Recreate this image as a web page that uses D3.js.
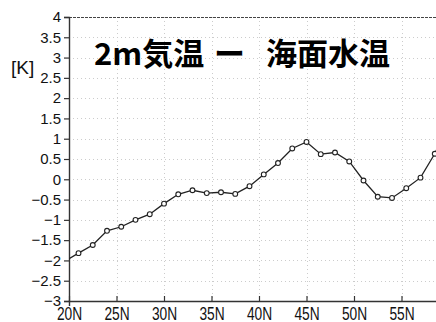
<!DOCTYPE html>
<html>
<head>
<meta charset="utf-8">
<script src="https://cdn.jsdelivr.net/npm/d3@7"></script>
<style>
  html, body { margin: 0; padding: 0; background: #fff; }
  svg { display: block; }
</style>
</head>
<body>
<svg id="chart" width="436" height="322"></svg>
<script>
// Zonal mean difference: 2m air temperature minus sea surface temperature
const latitudes = [19.5, 21, 22.5, 24, 25.5, 27, 28.5, 30, 31.5, 33, 34.5, 36, 37.5, 39,
                   40.5, 42, 43.5, 45, 46.5, 48, 49.5, 51, 52.5, 54, 55.5, 57, 58.5, 60];
const diffK = [-2.03, -1.82, -1.62, -1.27, -1.17, -1.00, -0.86, -0.60, -0.37, -0.27, -0.34, -0.32, -0.36, -0.17,
               0.12, 0.40, 0.76, 0.92, 0.62, 0.66, 0.44, -0.03, -0.43, -0.46, -0.22, 0.04, 0.63, 1.40];
const yTicks = [4, 3.5, 3, 2.5, 2, 1.5, 1, 0.5, 0, -0.5, -1, -1.5, -2, -2.5, -3];
const xTicks = [20, 25, 30, 35, 40, 45, 50, 55];
const xTickLabels = ["20N", "25N", "30N", "35N", "40N", "45N", "50N", "55N"];
const titleParts = ["2m気温", "ー", "海面水温"];
const unitText = "[K]";

const svg = d3.select("#chart");
const m = { left: 69, right: 449, top: 17, bottom: 301 };

const x = d3.scaleLinear().domain([20, 60]).range([m.left, m.right]);
const y = d3.scaleLinear().domain([-3, 4]).range([m.bottom, m.top]);

svg.append("defs").append("clipPath").attr("id", "plotClip")
  .append("rect").attr("x", m.left).attr("y", m.top - 1)
  .attr("width", m.right - m.left).attr("height", m.bottom - m.top + 2);

// dotted grid
const grid = svg.append("g").attr("stroke", "#cccccc").attr("stroke-width", 1)
  .attr("stroke-dasharray", "1,3");
grid.selectAll("line.h").data(yTicks.filter(d => d > -3 && d < 4)).join("line")
  .attr("class", "h")
  .attr("x1", m.left).attr("x2", m.right)
  .attr("y1", d => Math.round(y(d)) + 0.5).attr("y2", d => Math.round(y(d)) + 0.5);
grid.selectAll("line.v").data(xTicks.filter(d => d > 20)).join("line")
  .attr("class", "v")
  .attr("y1", m.top).attr("y2", m.bottom)
  .attr("x1", d => Math.round(x(d)) + 0.5).attr("x2", d => Math.round(x(d)) + 0.5);

// top frame (dashed)
svg.append("line")
  .attr("x1", m.left).attr("x2", m.right).attr("y1", m.top + 0.5).attr("y2", m.top + 0.5)
  .attr("stroke", "#444").attr("stroke-width", 1.2).attr("stroke-dasharray", "3,1");

// y axis
const yAxis = svg.append("g")
  .attr("transform", `translate(${m.left},0)`)
  .call(d3.axisLeft(y).tickValues(yTicks).tickSize(5).tickPadding(3).tickFormat(d3.format("")));
yAxis.select(".domain").attr("stroke", "#333").attr("stroke-width", 1.4);
yAxis.selectAll(".tick line").attr("stroke", "#333").attr("stroke-width", 1.2);
yAxis.selectAll(".tick text")
  .attr("font-family", "'Liberation Sans', Arial, sans-serif")
  .attr("font-size", 15).attr("fill", "#111");

// x axis
const xAxis = svg.append("g")
  .attr("transform", `translate(0,${m.bottom})`)
  .call(d3.axisBottom(x).tickValues(xTicks).tickSize(5).tickPadding(0)
        .tickFormat((d, i) => xTickLabels[i]));
xAxis.select(".domain").attr("stroke", "#333").attr("stroke-width", 1.4);
xAxis.selectAll(".tick line").attr("stroke", "#333").attr("stroke-width", 1.2)
  .attr("y1", -5).attr("y2", 0);
xAxis.selectAll(".tick text")
  .attr("font-family", "'Liberation Sans', Arial, sans-serif")
  .attr("font-size", 16).attr("fill", "#111")
  .attr("dy", null).attr("y", 0)
  .attr("transform", "translate(0,18.5) scale(0.86,1.12)");

// data line with open circle markers
const plot = svg.append("g").attr("clip-path", "url(#plotClip)");
const pts = latitudes.map((lat, i) => ({ lat, v: diffK[i] }));
plot.append("path").datum(pts)
  .attr("fill", "none").attr("stroke", "#222").attr("stroke-width", 1.3)
  .attr("d", d3.line().x(d => x(d.lat)).y(d => y(d.v)));
plot.selectAll("circle").data(pts).join("circle")
  .attr("cx", d => x(d.lat)).attr("cy", d => y(d.v)).attr("r", 2.4)
  .attr("fill", "#fff").attr("stroke", "#222").attr("stroke-width", 1.1);

// unit label
svg.append("text").attr("x", 11).attr("y", 74)
  .attr("font-family", "'Liberation Sans', Arial, sans-serif")
  .attr("font-size", 19).attr("fill", "#111").text(unitText);

// title, set in three pieces
const title = svg.append("text").attr("y", 65)
  .attr("font-family", "'Noto Sans CJK JP', sans-serif")
  .attr("font-weight", "bold").attr("font-size", 31).attr("fill", "#000");
title.append("tspan").attr("x", 94).text(titleParts[0]);
title.append("tspan").attr("x", 214).text(titleParts[1]);
title.append("tspan").attr("x", 266).text(titleParts[2]);
</script>
</body>
</html>
